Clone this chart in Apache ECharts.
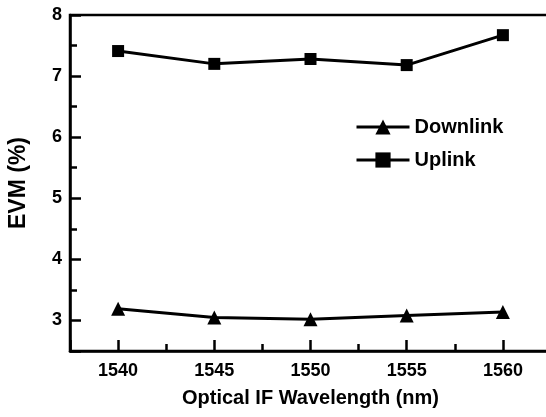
<!DOCTYPE html>
<html><head><meta charset="utf-8">
<script src="https://cdn.jsdelivr.net/npm/echarts@6/dist/echarts.min.js"></script>
<style>html,body{margin:0;padding:0;background:#fff}#c{width:546px;height:417px}</style>
</head><body><div id="c"></div>
<script>
const wavelengths = [1540, 1545, 1550, 1555, 1560];
const downlink = [3.19, 3.05, 3.02, 3.08, 3.14];
const uplink = [7.41, 7.20, 7.28, 7.18, 7.67];
const xTickLabels = ['1540', '1545', '1550', '1555', '1560'];
const yTickLabels = ['3', '4', '5', '6', '7', '8'];

const FONT = 'Liberation Sans';
const chart = echarts.init(document.getElementById('c'), null, {renderer: 'canvas'});
const xMin = 1537.5, xMax = 1562.5, yMin = 2.5, yMax = 8;
const lbl = {color: '#000', fontFamily: FONT, fontWeight: 'bold', fontSize: 18};

chart.setOption({
  animation: false,
  backgroundColor: '#fff',
  grid: {left: 70, width: 481, top: 15, height: 336, show: true, borderColor: '#000', borderWidth: 2.5,
         backgroundColor: 'transparent', containLabel: false, outerBoundsMode: 'none'},
  legend: {
    left: 350, top: 112, orient: 'vertical', itemWidth: 53, itemHeight: 19, itemGap: 13,
    lineStyle: {color: '#000', width: 3},
    textStyle: {color: '#000', fontFamily: FONT, fontWeight: 'bold', fontSize: 20, lineHeight: 20},
    data: ['Downlink', 'Uplink']
  },
  xAxis: [
    {type: 'value', min: xMin, max: xMax, interval: 2.5,
     axisLine: {show: true, lineStyle: {color: '#000', width: 2.5}},
     axisTick: {show: true, inside: true, length: 7, lineStyle: {color: '#000', width: 2.5}},
     axisLabel: {show: false}, splitLine: {show: false},
     name: 'Optical IF Wavelength (nm)', nameLocation: 'middle', nameGap: 37,
     nameTextStyle: {...lbl, fontSize: 20}},
    {type: 'value', min: xMin, max: xMax, minInterval: 5, maxInterval: 5, position: 'bottom',
     axisLine: {show: false},
     axisTick: {show: true, inside: true, length: 11, lineStyle: {color: '#000', width: 2.5}},
     axisLabel: {show: true, margin: 11, ...lbl,
       formatter: v => { const s = String(Math.round(v)); return (Math.abs(v - Math.round(v)) < 1e-6 && xTickLabels.includes(s)) ? s : ''; }},
     splitLine: {show: false}}
  ],
  yAxis: [
    {type: 'value', min: yMin, max: yMax, interval: 0.5,
     axisLine: {show: true, lineStyle: {color: '#000', width: 2.5}},
     axisTick: {show: true, inside: true, length: 7, lineStyle: {color: '#000', width: 2.5}},
     axisLabel: {show: false}, splitLine: {show: false},
     name: 'EVM (%)', nameLocation: 'middle', nameGap: 40, nameRotate: 90,
     nameTextStyle: {...lbl, fontSize: 23}},
    {type: 'value', min: yMin, max: yMax, minInterval: 1, maxInterval: 1, position: 'left',
     axisLine: {show: false},
     axisTick: {show: true, inside: true, length: 11, lineStyle: {color: '#000', width: 2.5}},
     axisLabel: {show: true, margin: 8, ...lbl,
       formatter: v => { const s = String(Math.round(v)); return (Math.abs(v - Math.round(v)) < 1e-6 && yTickLabels.includes(s)) ? s : ''; }},
     splitLine: {show: false}}
  ],
  series: [
    {name: 'Downlink', type: 'line', xAxisIndex: 0, yAxisIndex: 0,
     data: wavelengths.map((w, i) => [w, downlink[i]]),
     symbol: 'triangle', symbolSize: 14, showAllSymbol: true,
     lineStyle: {color: '#000', width: 3}, itemStyle: {color: '#000', borderWidth: 0}},
    {name: 'Uplink', type: 'line', xAxisIndex: 0, yAxisIndex: 0,
     data: wavelengths.map((w, i) => [w, uplink[i]]),
     symbol: 'rect', symbolSize: 12, showAllSymbol: true,
     lineStyle: {color: '#000', width: 3}, itemStyle: {color: '#000', borderWidth: 0}}
  ]
});
</script></body></html>
